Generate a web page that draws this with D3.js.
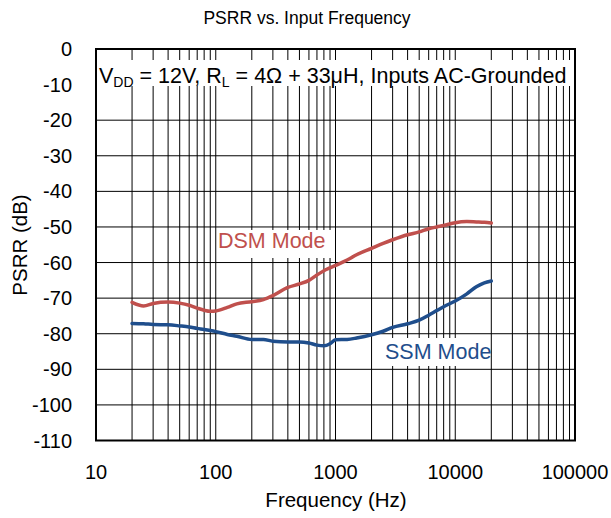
<!DOCTYPE html>
<html><head><meta charset="utf-8">
<script src="https://cdn.jsdelivr.net/npm/d3@7"></script>
<style>body{margin:0;background:#fff;} svg{display:block;font-family:"Liberation Sans",Arial,sans-serif;}</style>
</head><body>
<svg id="c" width="611" height="518"></svg>
<script>
const freqs = [20,25,30,40,50,60,70,80,90,100,125,150,200,250,300,400,500,600,700,800,900,1000,1250,1500,2000,2500,3000,4000,5000,6000,7000,8000,10000,12500,15000,17500,20000];
const dsm = [-71.2,-72.2,-71.5,-71.1,-71.4,-72.0,-72.8,-73.4,-73.7,-73.6,-72.6,-71.6,-71.0,-70.4,-69.3,-67.0,-66.0,-65.0,-63.5,-62.3,-61.5,-60.8,-59.3,-57.8,-56.0,-54.6,-53.6,-52.2,-51.4,-50.5,-50.0,-49.6,-48.8,-48.5,-48.6,-48.7,-48.9];
const ssm = [-77.1,-77.2,-77.4,-77.5,-77.8,-78.1,-78.5,-78.8,-79.1,-79.4,-80.2,-80.7,-81.6,-81.6,-82.1,-82.3,-82.3,-82.6,-83.2,-83.4,-82.8,-81.7,-81.6,-81.2,-80.3,-79.3,-78.2,-77.2,-76.2,-74.8,-73.5,-72.4,-70.8,-68.8,-66.8,-65.7,-65.2];
const xTicks = [10,100,1000,10000,100000];
const yTicks = [0,-10,-20,-30,-40,-50,-60,-70,-80,-90,-100,-110];
const title = "PSRR vs. Input Frequency";
const xTitle = "Frequency (Hz)";
const yTitle = "PSRR (dB)";

const L=96, R=575, T=49, B=440.5;
const svg = d3.select("#c");
const x = d3.scaleLog().domain([10,100000]).range([L,R]);
const y = d3.scaleLinear().domain([-110,0]).range([B,T]);

const vgrid = [];
for (let d=10; d<100000; d*=10) for (let k=1;k<=9;k++) vgrid.push(d*k);
vgrid.push(100000);
const g = svg.append("g");
g.selectAll("line.v").data(vgrid).join("line")
  .attr("x1",d=>x(d)).attr("x2",d=>x(d)).attr("y1",T).attr("y2",B)
  .attr("stroke","#000").attr("stroke-width",1);
g.selectAll("line.h").data(yTicks).join("line")
  .attr("x1",L).attr("x2",R).attr("y1",d=>y(d)).attr("y2",d=>y(d))
  .attr("stroke","#000").attr("stroke-width",1);

// annotation box
svg.append("rect").attr("x",L+1).attr("y",60).attr("width",R-L-2).attr("height",26).attr("fill","#fff");
const ann = svg.append("text").attr("x",99).attr("y",83).attr("font-size",21.5).attr("fill","#000");
ann.append("tspan").text("V");
ann.append("tspan").attr("font-size",14).attr("dy",4).text("DD");
ann.append("tspan").attr("dy",-4).text(" = 12V, R");
ann.append("tspan").attr("font-size",14).attr("dy",4).text("L");
ann.append("tspan").attr("dy",-4).text(" = 4Ω + 33μH, Inputs AC-Grounded");

// series label boxes
svg.append("rect").attr("x",217).attr("y",230).attr("width",115).attr("height",28).attr("fill","#fff");
svg.append("rect").attr("x",380).attr("y",338).attr("width",110).attr("height",28).attr("fill","#fff");

const line = d3.line().x((d,i)=>x(freqs[i])).y(d=>y(d)).curve(d3.curveMonotoneX);
svg.append("path").datum(dsm).attr("d",line).attr("fill","none").attr("stroke","#C0504D").attr("stroke-width",3.5).attr("stroke-linejoin","round").attr("stroke-linecap","round");
svg.append("path").datum(ssm).attr("d",line).attr("fill","none").attr("stroke","#1F4E8C").attr("stroke-width",3.5).attr("stroke-linejoin","round").attr("stroke-linecap","round");

svg.append("text").attr("x",218).attr("y",248).attr("font-size",21.5).attr("fill","#C0504D").text("DSM Mode");
svg.append("text").attr("x",385).attr("y",358.5).attr("font-size",21.5).attr("fill","#1F4E8C").text("SSM Mode");

// frame
svg.append("rect").attr("x",L).attr("y",T).attr("width",R-L).attr("height",B-T).attr("fill","none").attr("stroke","#000").attr("stroke-width",2);

svg.selectAll("text.yt").data(yTicks).join("text")
  .attr("x",72).attr("y",d=>y(d)+7).attr("text-anchor","end").attr("font-size",20).text(d=>d);
svg.selectAll("text.xt").data(xTicks).join("text")
  .attr("x",d=>x(d)).attr("y",479).attr("text-anchor","middle").attr("font-size",20).text(d=>d);

svg.append("text").attr("x",307).attr("y",24).attr("text-anchor","middle").attr("font-size",17.5).text(title);
svg.append("text").attr("x",336).attr("y",507).attr("text-anchor","middle").attr("font-size",20.5).text(xTitle);
svg.append("text").attr("transform","translate(27,245) rotate(-90)").attr("text-anchor","middle").attr("font-size",20.5).text(yTitle);
</script>
</body></html>
